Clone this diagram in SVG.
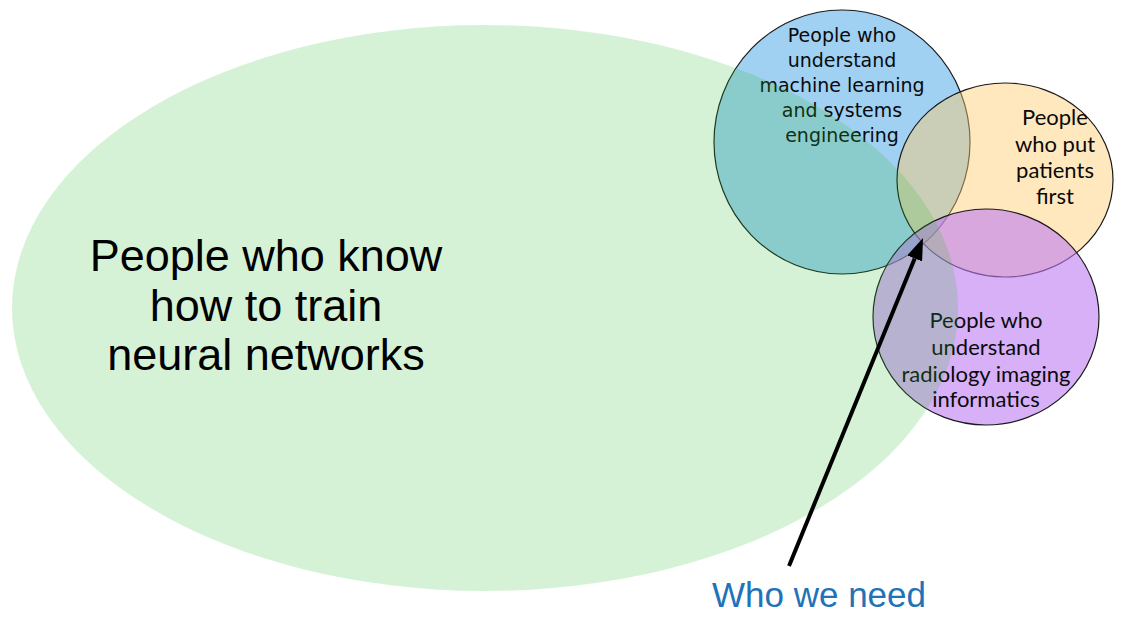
<svg xmlns="http://www.w3.org/2000/svg" width="1144" height="642" viewBox="0 0 1144 642">
  <style>
    .ring { stroke: #1a1a1a; stroke-width: 1.2; }
    .t-ml { font-family: "DejaVu Sans", "Liberation Sans", sans-serif; font-size: 19px; fill: #0a0a0a; text-anchor: middle; }
    .t-cal { font-family: Lato, "Liberation Sans", sans-serif; font-size: 22px; fill: #0a0a0a; text-anchor: middle; }
    .t-big { font-family: "Liberation Sans", Arial, sans-serif; font-size: 45px; fill: #000; text-anchor: middle; }
    .t-need { font-family: "Liberation Sans", Arial, sans-serif; font-size: 35px; fill: #2272B8; }
  </style>
  <defs>
    <marker id="head" markerUnits="userSpaceOnUse" markerWidth="22" markerHeight="16" viewBox="0 0 22 16" refX="0" refY="8" orient="auto">
      <path d="M0,0 L22,8 L0,16 z" fill="#000"/>
    </marker>
  </defs>
  <rect width="1144" height="642" fill="#ffffff"/>

  <g id="ml-systems">
    <ellipse class="ring" cx="842" cy="142" rx="128" ry="132" fill="#A0D0F2"/>
    <text class="t-ml" x="842" y="42">People who</text>
    <text class="t-ml" x="842" y="67">understand</text>
    <text class="t-ml" x="842" y="92">machine learning</text>
    <text class="t-ml" x="842" y="117">and systems</text>
    <text class="t-ml" x="842" y="142">engineering</text>
  </g>

  <g id="patients-first">
    <ellipse class="ring" cx="1005" cy="180" rx="108" ry="97" fill="rgb(255,204,111)" fill-opacity="0.45"/>
    <text class="t-cal" x="1055" y="125">People</text>
    <text class="t-cal" x="1055" y="152">who put</text>
    <text class="t-cal" x="1055" y="178">patients</text>
    <text class="t-cal" x="1055" y="204">first</text>
  </g>

  <g id="radiology">
    <ellipse class="ring" cx="986" cy="317" rx="113" ry="108" fill="rgb(190,123,243)" fill-opacity="0.6"/>
    <text class="t-cal" x="986" y="328">People who</text>
    <text class="t-cal" x="986" y="355">understand</text>
    <text class="t-cal" x="986" y="382">radiology imaging</text>
    <text class="t-cal" x="986" y="407">informatics</text>
  </g>

  <g id="neural-networks">
    <ellipse cx="485" cy="308" rx="473" ry="283" fill="rgb(50,190,50)" fill-opacity="0.2"/>
    <text class="t-big" x="266" y="271">People who know</text>
    <text class="t-big" x="266" y="321">how to train</text>
    <text class="t-big" x="266" y="370">neural networks</text>
  </g>

  <g id="connectors">
    <line x1="789" y1="566" x2="914.7" y2="258.4" stroke="#000" stroke-width="4" marker-end="url(#head)"/>
  </g>

  <g id="who-we-need">
    <text class="t-need" x="712" y="607">Who we need</text>
  </g>
</svg>
